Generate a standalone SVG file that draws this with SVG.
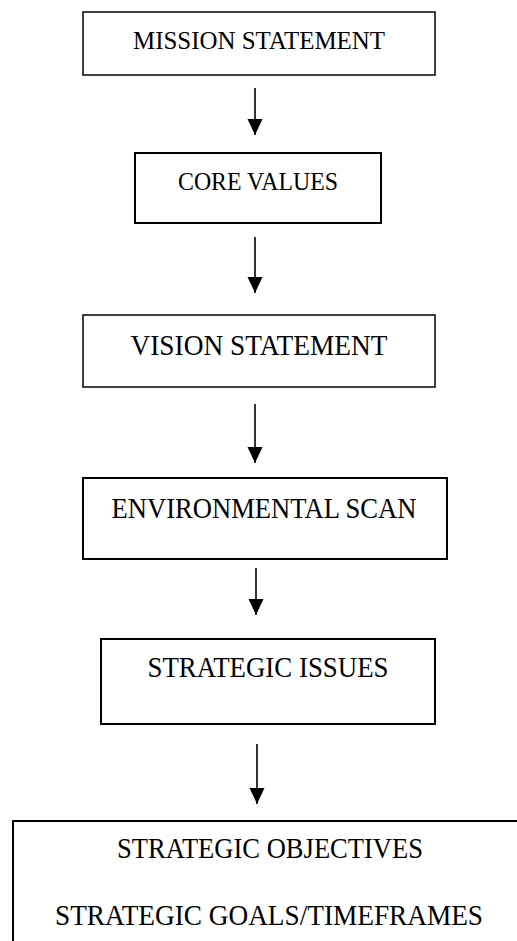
<svg xmlns="http://www.w3.org/2000/svg" width="517" height="941" viewBox="0 0 517 941">
<style>
  .box { fill: #ffffff; stroke: #000000; stroke-width: 2; }
  .thin { stroke-width: 1.5; }
  .lbl { font-family: "Liberation Serif", "Times New Roman", serif; fill: #000000; text-anchor: middle; }
  .s { font-size: 26px; }
  .b { font-size: 29px; }
  .conn { stroke: #000000; stroke-width: 1.6; fill: none; }
</style>
<defs>
  <marker id="ah" markerUnits="userSpaceOnUse" markerWidth="16" markerHeight="18" refX="16" refY="7.5" orient="auto">
    <path d="M0,0 L16,7.5 L0,15 Z" fill="#000000"/>
  </marker>
</defs>
<rect width="517" height="941" fill="#ffffff"/>
<g id="connectors">
  <line class="conn" x1="255" y1="88" x2="255" y2="135" marker-end="url(#ah)"/>
  <line class="conn" x1="255" y1="237" x2="255" y2="293" marker-end="url(#ah)"/>
  <line class="conn" x1="255" y1="404" x2="255" y2="463" marker-end="url(#ah)"/>
  <line class="conn" x1="256" y1="568" x2="256" y2="615" marker-end="url(#ah)"/>
  <line class="conn" x1="257" y1="744" x2="257" y2="804" marker-end="url(#ah)"/>
</g>
<g id="mission">
  <rect class="box thin" x="83" y="12" width="352" height="63"/>
  <text class="lbl s" x="259" y="49" textLength="252" lengthAdjust="spacingAndGlyphs">MISSION STATEMENT</text>
</g>
<g id="core">
  <rect class="box" x="135" y="153" width="246" height="70"/>
  <text class="lbl s" x="258" y="190" textLength="160" lengthAdjust="spacingAndGlyphs">CORE VALUES</text>
</g>
<g id="vision">
  <rect class="box thin" x="83" y="315" width="352" height="72"/>
  <text class="lbl b" x="259" y="355" textLength="257" lengthAdjust="spacingAndGlyphs">VISION STATEMENT</text>
</g>
<g id="environmental">
  <rect class="box" x="83" y="478" width="364" height="81"/>
  <text class="lbl b" x="264" y="518" textLength="305" lengthAdjust="spacingAndGlyphs">ENVIRONMENTAL SCAN</text>
</g>
<g id="issues">
  <rect class="box" x="101" y="639" width="334" height="85"/>
  <text class="lbl b" x="268" y="677" textLength="241" lengthAdjust="spacingAndGlyphs">STRATEGIC ISSUES</text>
</g>
<g id="objectives">
  <rect class="box" x="13" y="821" width="520" height="140"/>
  <text class="lbl b" x="270" y="858" textLength="306" lengthAdjust="spacingAndGlyphs">STRATEGIC OBJECTIVES</text>
  <text class="lbl b" x="269" y="925" textLength="428" lengthAdjust="spacingAndGlyphs">STRATEGIC GOALS/TIMEFRAMES</text>
</g>
</svg>
